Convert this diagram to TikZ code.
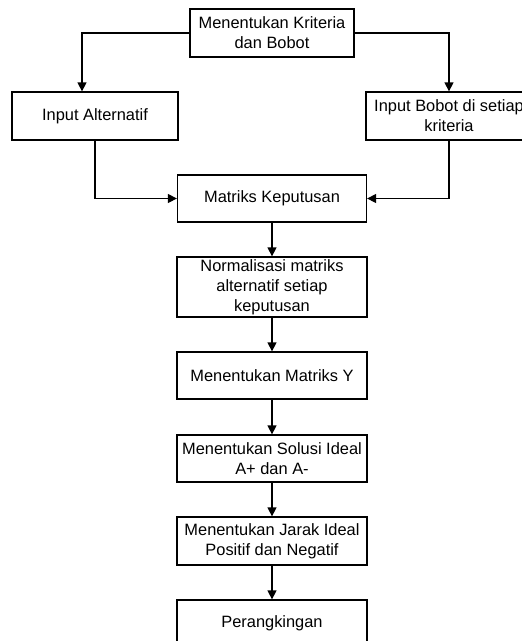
\documentclass[tikz,border=0pt]{standalone}
\usepackage{fontspec}
\setmainfont{Liberation Sans}
\usetikzlibrary{arrows.meta}
\begin{document}
\begin{tikzpicture}[x=1pt,y=-1pt,
  box/.style={draw=black,line width=1.3pt,fill=white,align=center,inner sep=0pt,
    font=\fontsize{16.4}{20}\selectfont,text=black},
  arr/.style={draw=black,line width=1.3pt,-{Triangle[length=9pt,width=9pt]}}]
\useasboundingbox (0,0) rectangle (522,641);
\clip (0,0) rectangle (522,641);
\fill[white] (0,0) rectangle (522,641);
\node[box,minimum width=164pt,minimum height=48pt] (top) at (272,33) {Menentukan Kriteria\\dan Bobot};
\node[box,minimum width=166pt,minimum height=48pt] (alt) at (95,116) {Input Alternatif};
\node[box,minimum width=166pt,minimum height=48pt] (bob) at (449,116) {Input Bobot di setiap\\kriteria};
\node[box,minimum width=189pt,minimum height=47pt] (mat) at (272,198.5) {Matriks Keputusan};
\node[box,minimum width=190pt,minimum height=60pt] (norm) at (272,287) {Normalisasi matriks\\alternatif setiap\\keputusan};
\node[box,minimum width=190pt,minimum height=47pt] (my) at (272,375.5) {Menentukan Matriks Y};
\node[box,minimum width=190pt,minimum height=47pt] (sol) at (272,458.5) {Menentukan Solusi Ideal\\A+ dan A-};
\node[box,minimum width=190pt,minimum height=48pt] (jar) at (272,541) {Menentukan Jarak Ideal\\Positif dan Negatif};
\node[box,minimum width=190pt,minimum height=46pt] (per) at (272,623) {Perangkingan};
\draw[arr] (top.west) -| ([xshift=-13pt]alt.north);
\draw[arr] (top.east) -| (bob.north);
\draw[arr] (alt.south) |- (mat.west);
\draw[arr] (bob.south) |- (mat.east);
\draw[arr] (mat.south) -- (norm.north);
\draw[arr] (norm.south) -- (my.north);
\draw[arr] (my.south) -- (sol.north);
\draw[arr] (sol.south) -- (jar.north);
\draw[arr] (jar.south) -- (per.north);
\end{tikzpicture}
\end{document}
